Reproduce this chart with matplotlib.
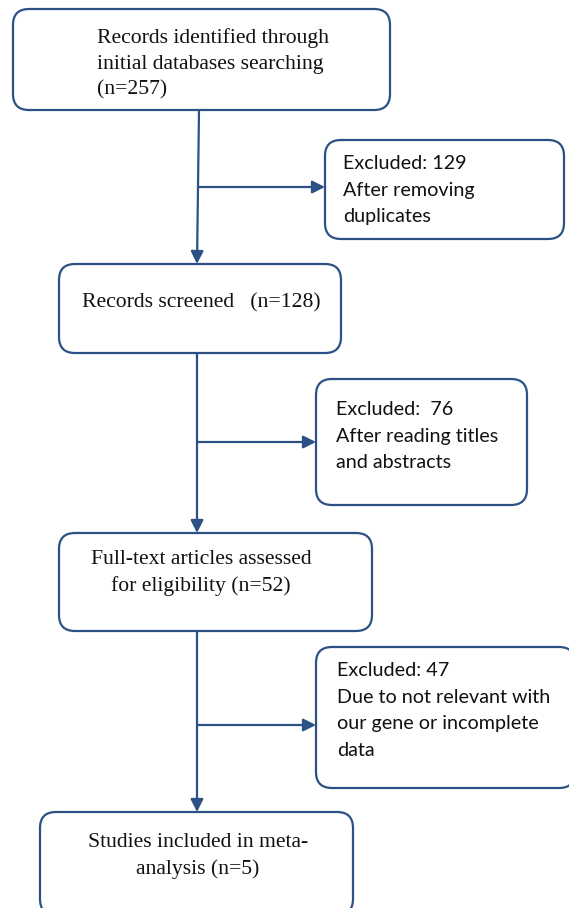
#!/usr/bin/env python3
"""PRISMA-style flow diagram of the study selection."""

import matplotlib

matplotlib.use("Agg")

import matplotlib.pyplot as plt
from matplotlib.patches import FancyArrowPatch, FancyBboxPatch

BLUE = "#2b5185"

# main column boxes: (left, top, right, bottom) in pixels, text, alignment
main_texts = [
    "Records identified through\ninitial databases searching\n(n=257)",
    "Records screened   (n=128)",
    "Full-text articles assessed\nfor eligibility (n=52)",
    "Studies included in meta-\nanalysis (n=5)",
]
main_boxes = [(13, 9, 390, 110), (59, 264, 341, 353), (59, 533, 372, 631), (40, 812, 353, 915)]
main_text_pos = [(97, 28, "left"), (82, 293, "left"), (201, 550, "center"), (198, 833, "center")]

side_texts = [
    "Excluded: 129\nAfter removing\nduplicates",
    "Excluded:  76\nAfter reading titles\nand abstracts",
    "Excluded: 47\nDue to not relevant with\nour gene or incomplete\ndata",
]
side_boxes = [(325, 140, 564, 239), (316, 379, 527, 505), (316, 647, 575, 788)]
side_text_pos = [(343, 155), (336, 401), (337, 662)]
branch_y = [187, 442, 725]

fig = plt.figure(figsize=(5.69, 9.08), dpi=100)
ax = fig.add_axes([0, 0, 1, 1])
ax.set_xlim(0, 569)
ax.set_ylim(908, 0)
ax.axis("off")


def draw_box(box, radius):
    left, top, right, bottom = box
    patch = FancyBboxPatch(
        (left, top),
        right - left,
        bottom - top,
        boxstyle=f"round,pad=0,rounding_size={radius}",
        linewidth=1.6,
        edgecolor=BLUE,
        facecolor="white",
        zorder=2,
    )
    ax.add_patch(patch)


for box, text, (tx, ty, ha) in zip(main_boxes, main_texts, main_text_pos):
    draw_box(box, 16)
    ax.text(tx, ty, text, ha=ha, va="top", fontsize=15.6, family="Liberation Serif",
            linespacing=1.48, color="#111111", zorder=3, multialignment=ha)

for box, text, (tx, ty) in zip(side_boxes, side_texts, side_text_pos):
    draw_box(box, 16)
    ax.text(tx, ty, text, ha="left", va="top", fontsize=14.2, family="Lato",
            linespacing=1.68, color="#111111", zorder=3)

arrow_kw = dict(arrowstyle="-|>,head_length=3.8,head_width=1.9", color=BLUE,
                linewidth=1.6, shrinkA=0, shrinkB=0, zorder=1, mutation_scale=2)

# vertical connectors between main boxes
col_x = [(199, 197), (197, 197), (197, 197)]
for (x0, x1), upper, lower in zip(col_x, main_boxes[:-1], main_boxes[1:]):
    ax.add_patch(FancyArrowPatch((x0, upper[3]), (x1, lower[1]), **arrow_kw))

# horizontal branches to exclusion boxes
for (x0, x1), y, side in zip(col_x, branch_y, side_boxes):
    ax.add_patch(FancyArrowPatch((x0 + (x1 - x0) * 0.5, y), (side[0], y), **arrow_kw))

fig.savefig("out.png", dpi=100, facecolor="white")
